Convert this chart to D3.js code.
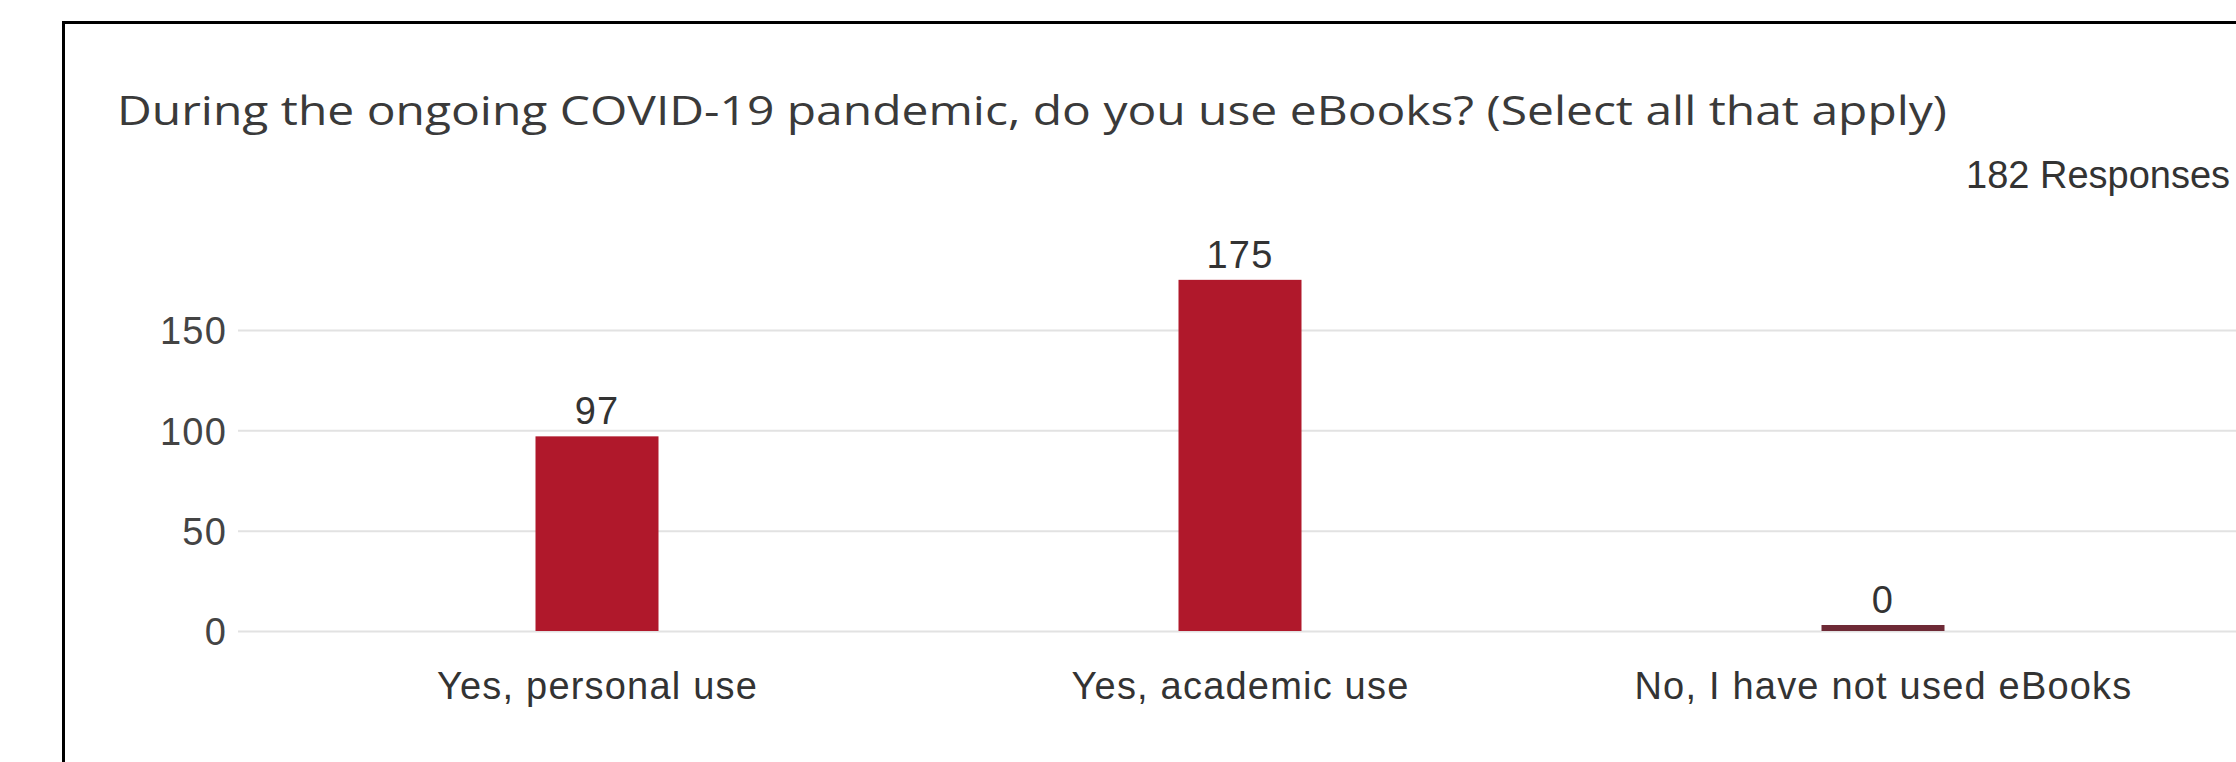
<!DOCTYPE html>
<html>
<head>
<meta charset="utf-8">
<script src="https://cdn.jsdelivr.net/npm/d3@7"></script>
<style>
  html, body { margin: 0; padding: 0; background: #fff; }
  svg { display: block; }
</style>
</head>
<body>
<svg id="chart" width="2236" height="762"></svg>
<script>
const title = "During the ongoing COVID-19 pandemic, do you use eBooks? (Select all that apply)";
const responsesText = "182 Responses";
const categories = ["Yes, personal use", "Yes, academic use", "No, I have not used eBooks"];
const values = [97, 175, 0];
const yTicks = [0, 50, 100, 150];

const svg = d3.select("#chart");
const W = 2236, H = 762;

svg.append("rect").attr("width", W).attr("height", H).attr("fill", "#fff");

// frame (left + top edges visible, rest cropped)
svg.append("path")
  .attr("d", `M63.5,${H + 5} L63.5,22.5 L${W + 5},22.5`)
  .attr("fill", "none").attr("stroke", "#000").attr("stroke-width", 3);

// title
svg.append("text")
  .attr("x", 117).attr("y", 125)
  .attr("font-family", "'Open Sans', 'Noto Sans', sans-serif")
  .attr("font-size", 41)
  .attr("fill", "#3a3a3a")
  .attr("textLength", 1830).attr("lengthAdjust", "spacingAndGlyphs")
  .text(title);

svg.append("text")
  .attr("x", 1966).attr("y", 188)
  .attr("font-family", "'Liberation Sans', Arial, sans-serif")
  .attr("font-size", 38)
  .attr("fill", "#333")
  .text(responsesText);

const y = d3.scaleLinear().domain([0, 150]).range([631, 330]);
const x = d3.scalePoint().domain(categories).range([275.5, 2204.5]).padding(0.5);
const barW = 123;

// gridlines + y tick labels via axis
const yAxis = d3.axisLeft(y).tickValues(yTicks).tickSize(-(W - 238 + 10)).tickPadding(11);
const gy = svg.append("g").attr("transform", "translate(238,0)").call(yAxis);
gy.select(".domain").remove();
gy.selectAll(".tick line").attr("stroke", "#e2e2e2").attr("stroke-width", 2);
gy.selectAll(".tick text")
  .attr("font-family", "'Liberation Sans', Arial, sans-serif")
  .attr("font-size", 38).attr("letter-spacing", 1.2)
  .attr("fill", "#444").attr("dy", "0.36em");

// bars
svg.append("g").selectAll("rect")
  .data(values)
  .join("rect")
  .attr("x", (d, i) => x(categories[i]) - barW / 2)
  .attr("width", barW)
  .attr("y", d => d > 0 ? y(d) : y(0) - 6)
  .attr("height", d => d > 0 ? y(0) - y(d) : 6)
  .attr("fill", d => d > 0 ? "#b0182b" : "#6e2a36");

// value labels
svg.append("g").selectAll("text")
  .data(values)
  .join("text")
  .attr("x", (d, i) => x(categories[i]))
  .attr("y", d => (d > 0 ? y(d) : y(0) - 6) - 12)
  .attr("text-anchor", "middle")
  .attr("font-family", "'Liberation Sans', Arial, sans-serif")
  .attr("font-size", 38).attr("letter-spacing", 1.2)
  .attr("fill", "#333")
  .text(d => d);

// x axis labels
const xAxis = d3.axisBottom(x).tickSize(0).tickPadding(0);
const gx = svg.append("g").attr("transform", "translate(0,699)").call(xAxis);
gx.select(".domain").remove();
gx.selectAll(".tick text")
  .attr("dy", 0)
  .attr("font-family", "'Liberation Sans', Arial, sans-serif")
  .attr("font-size", 38).attr("letter-spacing", 1.2)
  .attr("fill", "#333");
</script>
</body>
</html>
